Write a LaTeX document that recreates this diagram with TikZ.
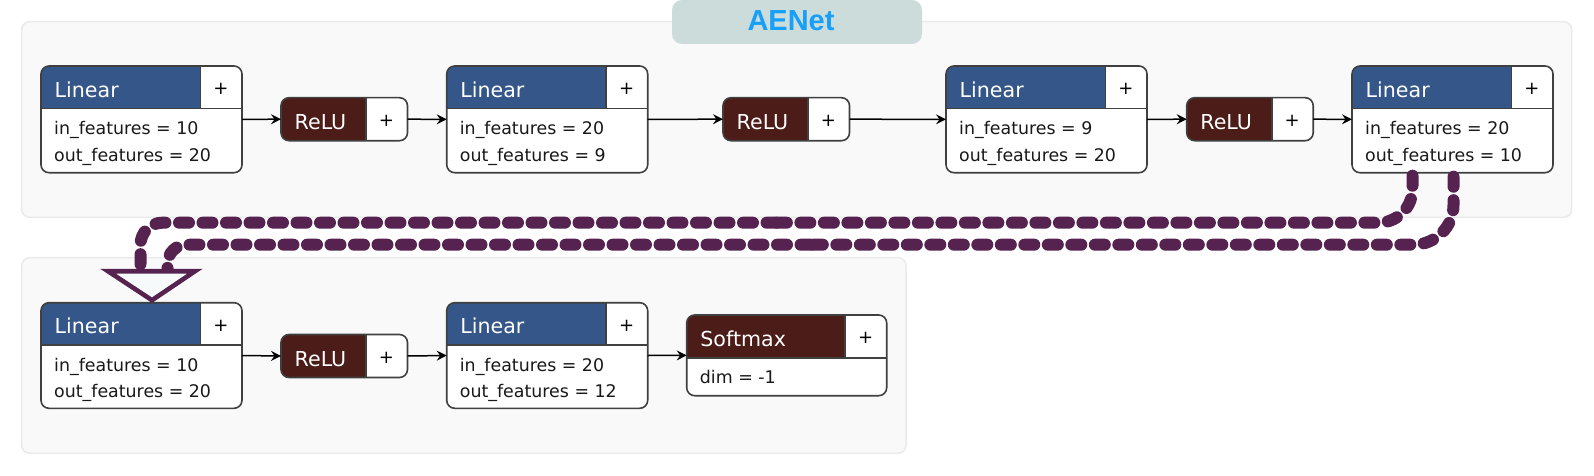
\documentclass[tikz,border=0pt]{standalone}
\usepackage{fontspec}
\setmainfont{DejaVu Sans}
\newfontfamily\titlefont{Liberation Sans}
\usetikzlibrary{calc,arrows.meta}
\definecolor{linblue}{RGB}{52,86,137}
\definecolor{actred}{RGB}{75,28,24}
\definecolor{conncol}{RGB}{86,35,80}
\definecolor{titlebg}{RGB}{204,220,219}
\definecolor{titlefg}{RGB}{22,160,250}
\definecolor{contfill}{RGB}{249,249,249}
\definecolor{contline}{RGB}{234,234,234}
\definecolor{nodeline}{RGB}{64,64,64}
\definecolor{headfill}{RGB}{247,250,251}
\tikzset{
  container/.style={rectangle, rounded corners=8pt, fill=contfill, draw=contline, line width=1.5pt, inner sep=0pt, outer sep=0pt, anchor=north west},
  modbox/.style={rectangle, rounded corners=8pt, fill=white, inner sep=0pt, outer sep=0pt, anchor=north west},
  outline/.style={draw=nodeline, line width=1.6pt},
  hdrtxt/.style={text=white, font=\fontsize{20.6}{24}\selectfont, inner sep=0pt, anchor=base west},
  bodytxt/.style={text=black!90, font=\fontsize{17.4}{20}\selectfont, inner sep=0pt, anchor=base west},
  plustxt/.style={text=black, font=\fontsize{18}{20}\selectfont, inner sep=0pt},
  conn/.style={-{Stealth[length=10pt,width=10pt,inset=3.5pt]}, line width=1.5pt, black},
  dashconn/.style={line width=12pt, draw=conncol, line cap=round, dash pattern=on 10pt off 13.5pt},
  titlebox/.style={rectangle, rounded corners=10pt, fill=titlebg, minimum width=250pt, minimum height=44pt, inner sep=0pt},
  titletxt/.style={text=titlefg, font=\titlefont\bfseries\fontsize{29}{32}\selectfont, inner sep=0pt},
  headtri/.style={draw=conncol, fill=headfill, line width=4.6pt, line join=miter},
}
% #1 name, #2 x, #3 y, #4 width, #5 height, #6 header height, #7 colour, #8 title
\newcommand{\ModBox}[8]{%
  \node[modbox, minimum width=#4pt, minimum height=#5pt] (#1) at (#2,#3) {};
  \begin{scope}
    \clip[rounded corners=8pt] (#1.south west) rectangle (#1.north east);
    \fill[#7] (#1.north west) rectangle ($(#1.north east)+(-41.5,#6)$);
  \end{scope}
  \ifdim #6pt<#5pt
    \draw[outline] ($(#1.north west)+(0,#6)$) -- ($(#1.north east)+(0,#6)$);
  \fi
  \draw[outline] ($(#1.north east)+(-41.5,0)$) -- ($(#1.north east)+(-41.5,#6)$);
  \draw[outline, rounded corners=8pt] (#1.south west) rectangle (#1.north east);
  \node[hdrtxt] (#1-t) at ($(#1.north west)+(13.5,#6/2+10)$) {#8};
  \node[plustxt] (#1-p) at ($(#1.north east)+(-21,#6/2+2)$) {+};
}
% #1 name suffix, #2 box, #3 dy, #4 text
\newcommand{\BodyLine}[4]{%
  \node[bodytxt] (#2-#1) at ($(#2.north west)+(13,#3)$) {#4};
}
\begin{document}
\begin{tikzpicture}[x=1pt,y=-1pt]
\useasboundingbox (0,0) rectangle (1594,476);
\fill[white] (0,0) rectangle (1594,476);

% containers
\node[container, minimum width=1550pt, minimum height=195.6pt] (grpA) at (21.7,21.7) {};
\node[container, minimum width=884.3pt, minimum height=195.6pt] (grpB) at (21.7,257.7) {};

% title
\node[titlebox] (titlebg) at (797,22) {};
\node[titletxt] (title) at (791,21) {AENet};

% top row
\ModBox{L1}{41}{66}{201}{106.7}{42.5}{linblue}{Linear}
\BodyLine{a}{L1}{69}{in\_features = 10}
\BodyLine{b}{L1}{95}{out\_features = 20}
\ModBox{R1}{281}{97.7}{126.5}{43}{43}{actred}{ReLU}
\ModBox{L2}{446.7}{66}{201}{106.7}{42.5}{linblue}{Linear}
\BodyLine{a}{L2}{69}{in\_features = 20}
\BodyLine{b}{L2}{95}{out\_features = 9}
\ModBox{R2}{723}{97.7}{126.5}{43}{43}{actred}{ReLU}
\ModBox{L3}{946}{66}{201}{106.7}{42.5}{linblue}{Linear}
\BodyLine{a}{L3}{69}{in\_features = 9}
\BodyLine{b}{L3}{95}{out\_features = 20}
\ModBox{R3}{1186.7}{97.7}{126.5}{43}{43}{actred}{ReLU}
\ModBox{L4}{1352}{66}{201}{106.7}{42.5}{linblue}{Linear}
\BodyLine{a}{L4}{69}{in\_features = 20}
\BodyLine{b}{L4}{95}{out\_features = 10}

% bottom row
\ModBox{B1}{41}{302.7}{201}{105.6}{42}{linblue}{Linear}
\BodyLine{a}{B1}{69}{in\_features = 10}
\BodyLine{b}{B1}{95}{out\_features = 20}
\ModBox{BR}{281}{334.5}{126.5}{43}{43}{actred}{ReLU}
\ModBox{B2}{446.7}{302.7}{201}{105.6}{42}{linblue}{Linear}
\BodyLine{a}{B2}{69}{in\_features = 20}
\BodyLine{b}{B2}{95}{out\_features = 12}
\ModBox{SM}{686.7}{315}{200}{80.7}{42.7}{actred}{Softmax}
\BodyLine{a}{SM}{68}{dim = -1}

% connectors
\draw[conn] (L1.east) -- (R1.west);
\draw[conn] (R1.east) -- (L2.west);
\draw[conn] (L2.east) -- (R2.west);
\draw[conn] (R2.east) -- (L3.west);
\draw[conn] (L3.east) -- (R3.west);
\draw[conn] (R3.east) -- (L4.west);
\draw[conn] (B1.east) -- (BR.west);
\draw[conn] (BR.east) -- (B2.west);
\draw[conn] (B2.east) -- (SM.west);

% dashed links from L4 to B1
\coordinate (a1) at ($(L4.south)+(-40,3)$);
\coordinate (a2) at ($(L4.south)+(-40,50)$);
\coordinate (a3) at ($(B1.north)+(-1,-80)$);
\coordinate (a4) at ($(B1.north)+(-1,-31)$);
\coordinate (m1) at ($(a2)!0.5!(a3)$);
\coordinate (b1) at ($(L4.south)+(1,4)$);
\coordinate (b2) at ($(L4.south)+(1,72)$);
\coordinate (b3) at ($(B1.north)+(26,-58)$);
\coordinate (b4) at ($(B1.north)+(26,-31)$);
\coordinate (m2) at ($(b2)!0.5!(b3)$);
\draw[dashconn, rounded corners=34pt] (a1) -- (a2) -- (m1);
\draw[dashconn, rounded corners=22pt] (m1) -- (a3) -- (a4);
\draw[dashconn, rounded corners=40pt] (b1) -- (b2) -- (m2);
\draw[dashconn, rounded corners=19pt] (m2) -- (b3) -- (b4);
\coordinate (hd) at ($(B1.north)+(10.5,-31.5)$);
\draw[headtri] ($(hd)+(-44,0)$) -- ($(hd)+(43,0)$) -- ($(hd)+(0,29)$) -- cycle;
\end{tikzpicture}
\end{document}
